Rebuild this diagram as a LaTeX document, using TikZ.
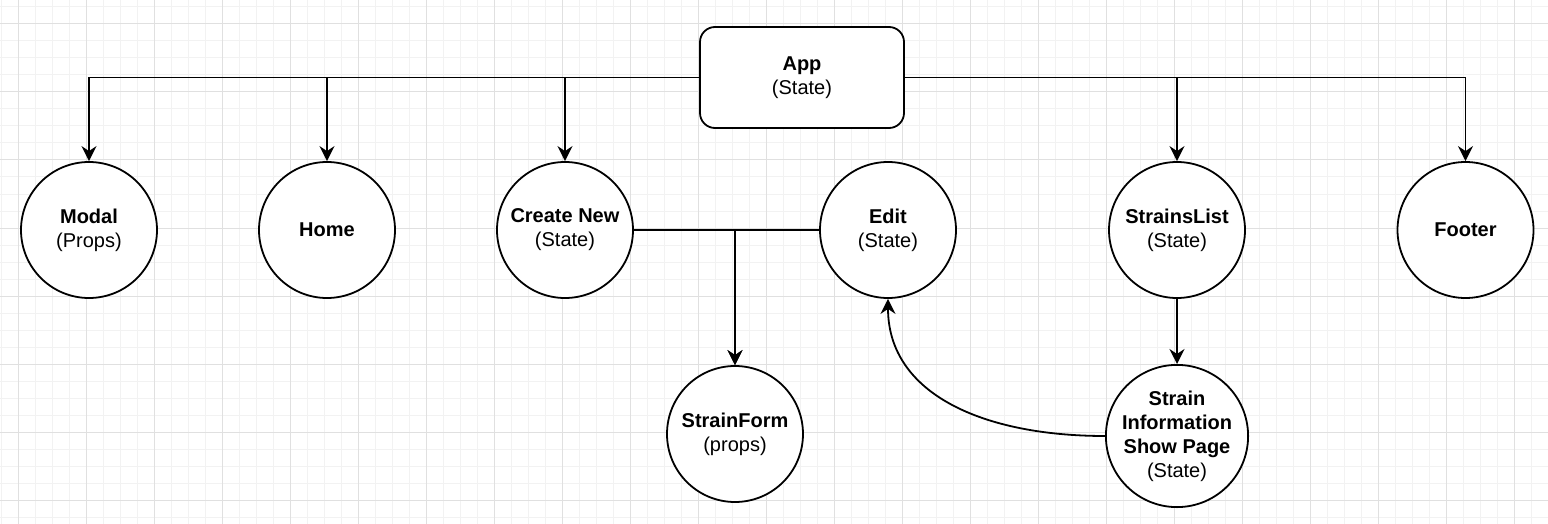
\documentclass[tikz,border=0pt]{standalone}
\usepackage{fontspec}
\setmainfont{Liberation Sans}
\usetikzlibrary{arrows.meta}

\tikzset{
    view/.style={draw, line width=1.8pt, circle, fill=white, minimum size=136pt, inner sep=0pt, align=center, font=\fontsize{20}{24}\selectfont},
    root/.style={draw, line width=1.8pt, rounded corners=15pt, fill=white, minimum width=204pt, minimum height=101pt, align=center, font=\fontsize{20}{24}\selectfont},
    link/.style={line width=1.8pt, -{Stealth[length=15pt, width=15pt, inset=5pt]}},
    minorline/.style={draw=black!5, line width=1pt},
    majorline/.style={draw=black!12, line width=1pt}
}

\begin{document}
\begin{tikzpicture}[x=1pt, y=-1pt]
    \useasboundingbox (0,0) rectangle (1548,524);
    \fill[white] (0,0) rectangle (1548,524);

    % background grid
    \foreach \x in {1,18,...,1548} \draw[minorline] (\x,0) -- (\x,524);
    \foreach \y in {7,24,...,524} \draw[minorline] (0,\y) -- (1548,\y);
    \foreach \x in {18,86,...,1548} \draw[majorline] (\x,0) -- (\x,524);
    \foreach \y in {24,92,...,524} \draw[majorline] (0,\y) -- (1548,\y);

    \node[root] (app) at (802,77.5) {\textbf{App}\\(State)};

    \node[view] (modal) at (89,230) {\textbf{Modal}\\(Props)};
    \node[view] (home) at (327,230) {\textbf{Home}};
    \node[view] (create) at (565,230) {\textbf{Create New}\\(State)};
    \node[view] (edit) at (888,230) {\textbf{Edit}\\(State)};
    \node[view] (list) at (1177,230) {\textbf{StrainsList}\\(State)};
    \node[view] (footer) at (1465.5,230) {\textbf{Footer}};

    \node[view] (form) at (735,434) {\textbf{StrainForm}\\(props)};
    \node[view] (show) at (1177,436) {\textbf{Strain}\\\textbf{Information}\\\textbf{Show Page}\\(State)};

    \draw[link] (app) -| (modal);
    \draw[link] (app) -| (home);
    \draw[link] (app) -| (create);
    \draw[link] (app) -| (list);
    \draw[link] (app) -| (footer);

    \draw[link] (create) -| (form);
    \draw[link] (edit) -| (form);
    \draw[link] (list) -- (show);
    \draw[link] (show.west) .. controls (985,436) and (888,395) .. (edit.south);
\end{tikzpicture}
\end{document}
